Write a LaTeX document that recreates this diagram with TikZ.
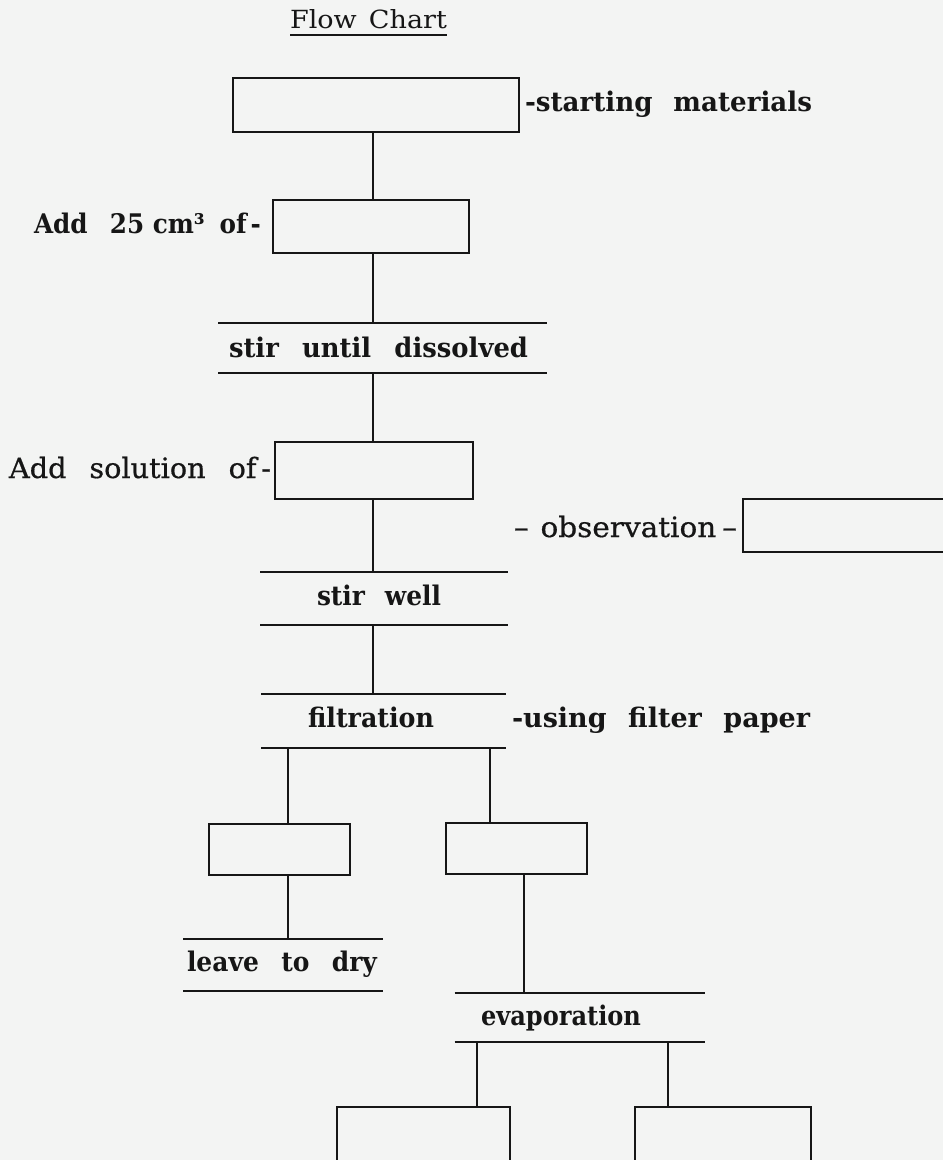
\documentclass[tikz,border=0pt]{standalone}
\usepackage{fontspec}
\setmainfont{DejaVu Serif}
\usepackage{graphicx}
\definecolor{paper}{RGB}{243,244,243}
\definecolor{ink}{RGB}{22,22,22}
\newcommand\fitto[2]{\resizebox{#1pt}{\height}{#2}}
\newcommand\boldlbl{\fontsize{27}{30}\selectfont\bfseries}
\newcommand\reglbl{\fontsize{28}{30}\selectfont\addfontfeature{FakeBold=0.6}}
\newcommand\titlelbl{\fontsize{25}{28}\selectfont}
\begin{document}
\begin{tikzpicture}[x=1pt,y=-1pt,
  every node/.style={inner sep=0pt, outer sep=0pt, text=ink},
  boxnode/.style={draw=ink, line width=1.9pt},
  barnode/.style={draw=none},
  hline/.style={draw=ink, line width=2pt},
  link/.style={draw=ink, line width=1.5pt},
  lbl/.style={anchor=base west}]
\useasboundingbox (0,0) rectangle (943,1160);
\fill[paper] (0,0) rectangle (943,1160);
\clip (0,0) rectangle (943,1160);

% title
\node[lbl] (title) at (290,28) {\titlelbl\fitto{157}{Flow\hspace{0.45em}Chart}};
\draw[ink, line width=1.6pt] ([yshift=-7pt]title.base west) -- ([yshift=-7pt]title.base east);

% boxes
\node[boxnode, minimum width=286pt, minimum height=54pt] (b1) at (376,105) {};
\node[boxnode, minimum width=196pt, minimum height=53pt] (b2) at (371,226.5) {};
\node[boxnode, minimum width=198pt, minimum height=57pt] (b3) at (374,470.5) {};
\node[boxnode, minimum width=260pt, minimum height=53pt] (b4) at (873,525.5) {};
\node[boxnode, minimum width=141pt, minimum height=51pt] (b5) at (279.5,849.5) {};
\node[boxnode, minimum width=141pt, minimum height=51pt] (b6) at (516.5,848.5) {};
\node[boxnode, minimum width=173pt, minimum height=120pt] (b7) at (423.5,1167) {};
\node[boxnode, minimum width=176pt, minimum height=120pt] (b8) at (723,1167) {};

% bars (steps between two lines)
\node[barnode, minimum width=329pt, minimum height=50pt] (s1) at (382.5,348) {};
\node[barnode, minimum width=248pt, minimum height=53pt] (s2) at (384,598.5) {};
\node[barnode, minimum width=245pt, minimum height=54pt] (s3) at (383.5,721) {};
\node[barnode, minimum width=200pt, minimum height=52pt] (s4) at (283,965) {};
\node[barnode, minimum width=250pt, minimum height=49pt] (s5) at (579.5,1017.5) {};
\foreach \s in {s1,s2,s3,s4,s5}{
  \draw[hline] (\s.north west) -- (\s.north east);
  \draw[hline] (\s.south west) -- (\s.south east);
}

% labels
\node[lbl] (l1) at (525,111) {\boldlbl\fitto{287}{-starting\hspace{0.8em}materials}};
\node[lbl] (l2) at (34,233) {\boldlbl\fitto{227}{Add\hspace{0.9em}25 cm³\hspace{0.6em}of\,-}};
\node[lbl] (t1) at (229,357) {\boldlbl\fitto{299}{stir\hspace{0.9em}until\hspace{0.9em}dissolved}};
\node[lbl] (l3) at (9,478) {\reglbl\fitto{262}{Add\hspace{0.8em}solution\hspace{0.8em}of\,-}};
\node[lbl] (l4) at (514,537) {\reglbl\fitto{223}{–\hspace{0.4em}observation\hspace{0.2em}–}};
\node[lbl] (t2) at (317,605) {\boldlbl\fitto{124}{stir\hspace{0.8em}well}};
\node[lbl] (t3) at (308,727) {\boldlbl\fitto{126}{filtration}};
\node[lbl] (l5) at (512,727) {\boldlbl\fitto{298}{-using\hspace{0.8em}filter\hspace{0.8em}paper}};
\node[lbl] (t4) at (187,971) {\boldlbl\fitto{190}{leave\hspace{0.9em}to\hspace{0.9em}dry}};
\node[lbl] (t5) at (481,1025) {\boldlbl\fitto{160}{evaporation}};

% connector x positions
\coordinate (cx) at (373,0);
\coordinate (xa) at (288,0);
\coordinate (xb) at (490,0);
\coordinate (xc) at (524,0);
\coordinate (xd) at (477,0);
\coordinate (xe) at (668,0);

% connectors
\draw[link] (b1.south -| cx) -- (b2.north -| cx);
\draw[link] (b2.south -| cx) -- (s1.north -| cx);
\draw[link] (s1.south -| cx) -- (b3.north -| cx);
\draw[link] (b3.south -| cx) -- (s2.north -| cx);
\draw[link] (s2.south -| cx) -- (s3.north -| cx);
\draw[link] (s3.south -| xa) -- (b5.north -| xa);
\draw[link] (s3.south -| xb) -- (b6.north -| xb);
\draw[link] (b5.south -| xa) -- (s4.north -| xa);
\draw[link] (b6.south -| xc) -- (s5.north -| xc);
\draw[link] (s5.south -| xd) -- (b7.north -| xd);
\draw[link] (s5.south -| xe) -- (b8.north -| xe);
\end{tikzpicture}
\end{document}
